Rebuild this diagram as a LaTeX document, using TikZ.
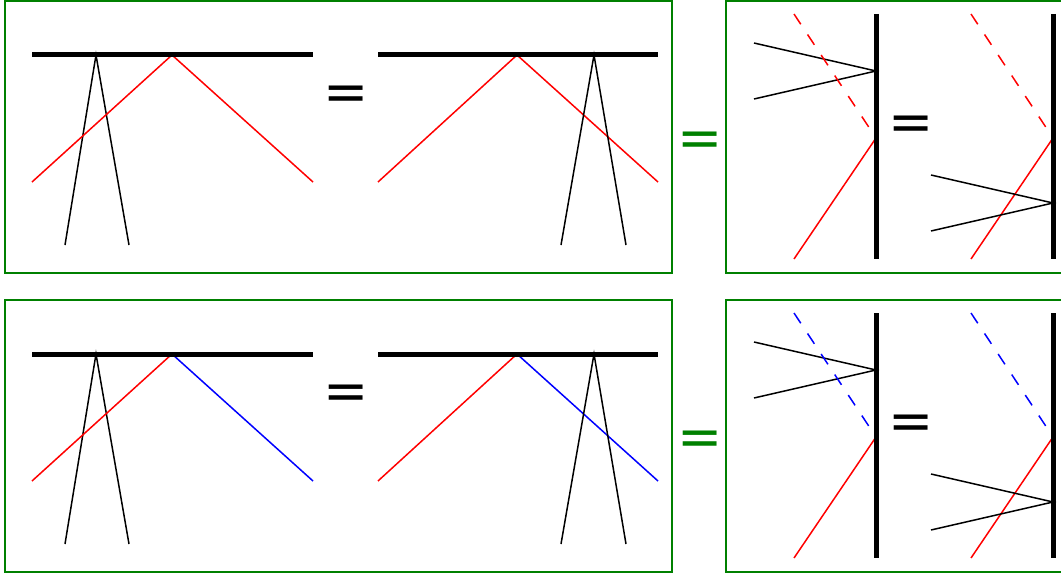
\documentclass[tikz,border=0pt]{standalone}
\usepackage{fontspec}
\newfontfamily\eqfont{DejaVu Sans}
\definecolor{framegreen}{RGB}{0,128,0}

\begin{document}
\begin{tikzpicture}[x=1pt, y=-1pt,
  frame/.style={framegreen, line width=1.6pt},
  mirror/.style={line width=5pt},
  ray/.style={line width=1.5pt},
  virtual/.style={ray, dash pattern=on 12.3pt off 12.3pt},
  eqsign/.style={inner sep=0pt, font=\eqfont\fontsize{54}{54}\selectfont}]
\useasboundingbox (0,0) rectangle (1061,578);
\draw[frame] (5,1) rectangle (672,273);
\draw[frame] (726,1) rectangle (1075,273);
\draw[frame] (5,300) rectangle (672,572);
\draw[frame] (726,300) rectangle (1075,572);
\coordinate (M1a) at (32,55);
\coordinate (M1b) at (313,55);
\coordinate (P1) at (96,55);
\coordinate (K1) at (65,245);
\coordinate (K2) at (129,245);
\coordinate (R1) at (172,55);
\coordinate (S1) at (32,182);
\coordinate (S2) at (313,182);
\draw[ray] (K1) -- (P1) -- (K2);
\draw[ray, red] (S1) -- (R1) -- (S2);
\draw[mirror] (M1a) -- (M1b);
\node[eqsign] (eq1) at (346.3,98) {=};
\coordinate (M2a) at (378,55);
\coordinate (M2b) at (658,55);
\coordinate (R2) at (517,55);
\coordinate (S3) at (378,182);
\coordinate (S4) at (658,182);
\coordinate (P2) at (594,55);
\coordinate (K3) at (561,245);
\coordinate (K4) at (626,245);
\draw[ray, red] (S3) -- (R2) -- (S4);
\draw[ray] (K3) -- (P2) -- (K4);
\draw[mirror] (M2a) -- (M2b);
\node[eqsign, framegreen] (eqg1) at (699.7,144.6) {=};
\coordinate (V1a) at (876,14);
\coordinate (V1b) at (876,259);
\coordinate (P3) at (876,71);
\coordinate (K5) at (754,43);
\coordinate (K6) at (754,99);
\coordinate (R3) at (876,138);
\coordinate (S5) at (794,259);
\coordinate (S6) at (794,14);
\draw[ray] (K5) -- (P3) -- (K6);
\draw[ray, red] (S5) -- (R3);
\draw[virtual, red] (S6) -- (R3);
\draw[mirror] (V1a) -- (V1b);
\node[eqsign] (eq2) at (911.3,128) {=};
\coordinate (V2a) at (1053,14);
\coordinate (V2b) at (1053,259);
\coordinate (R4) at (1053,138);
\coordinate (S7) at (971,259);
\coordinate (S8) at (971,14);
\coordinate (P4) at (1053,203);
\coordinate (K7) at (931,175);
\coordinate (K8) at (931,231);
\draw[ray, red] (S7) -- (R4);
\draw[virtual, red] (S8) -- (R4);
\draw[ray] (K7) -- (P4) -- (K8);
\draw[mirror] (V2a) -- (V2b);
\coordinate (M3a) at (32,354);
\coordinate (M3b) at (313,354);
\coordinate (P5) at (96,354);
\coordinate (K9) at (65,544);
\coordinate (K10) at (129,544);
\coordinate (R5) at (172,354);
\coordinate (S9) at (32,481);
\coordinate (S10) at (313,481);
\draw[ray] (K9) -- (P5) -- (K10);
\draw[ray, red] (S9) -- (R5);
\draw[ray, blue] (R5) -- (S10);
\draw[mirror] (M3a) -- (M3b);
\node[eqsign] (eq3) at (346.3,397) {=};
\coordinate (M4a) at (378,354);
\coordinate (M4b) at (658,354);
\coordinate (R6) at (517,354);
\coordinate (S11) at (378,481);
\coordinate (S12) at (658,481);
\coordinate (P6) at (594,354);
\coordinate (K11) at (561,544);
\coordinate (K12) at (626,544);
\draw[ray, red] (S11) -- (R6);
\draw[ray, blue] (R6) -- (S12);
\draw[ray] (K11) -- (P6) -- (K12);
\draw[mirror] (M4a) -- (M4b);
\node[eqsign, framegreen] (eqg2) at (699.7,443.6) {=};
\coordinate (V3a) at (876,313);
\coordinate (V3b) at (876,558);
\coordinate (P7) at (876,370);
\coordinate (K13) at (754,342);
\coordinate (K14) at (754,398);
\coordinate (R7) at (876,437);
\coordinate (S13) at (794,558);
\coordinate (S14) at (794,313);
\draw[ray] (K13) -- (P7) -- (K14);
\draw[ray, red] (S13) -- (R7);
\draw[virtual, blue] (S14) -- (R7);
\draw[mirror] (V3a) -- (V3b);
\node[eqsign] (eq4) at (911.3,427) {=};
\coordinate (V4a) at (1053,313);
\coordinate (V4b) at (1053,558);
\coordinate (R8) at (1053,437);
\coordinate (S15) at (971,558);
\coordinate (S16) at (971,313);
\coordinate (P8) at (1053,502);
\coordinate (K15) at (931,474);
\coordinate (K16) at (931,530);
\draw[ray, red] (S15) -- (R8);
\draw[virtual, blue] (S16) -- (R8);
\draw[ray] (K15) -- (P8) -- (K16);
\draw[mirror] (V4a) -- (V4b);
\end{tikzpicture}
\end{document}
